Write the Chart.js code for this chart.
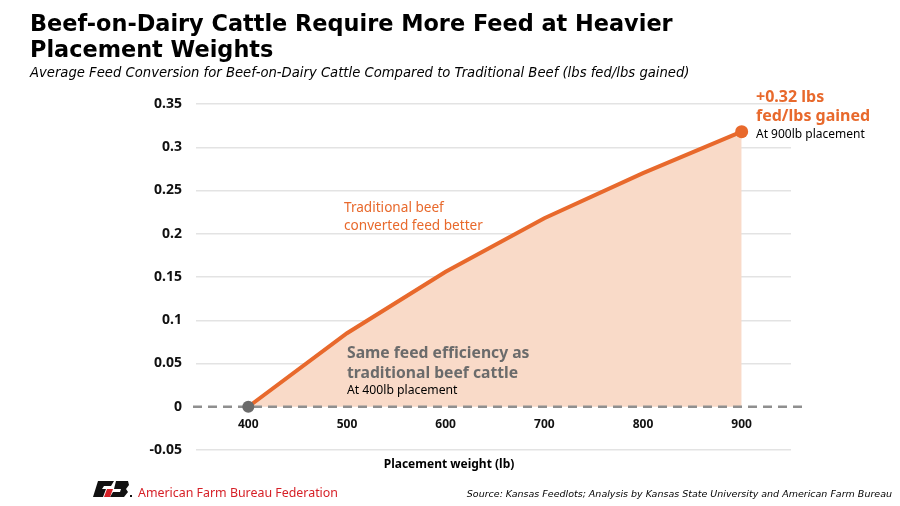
<!DOCTYPE html>
<html>
<head>
<meta charset="utf-8">
<script src="https://cdn.jsdelivr.net/npm/chart.js@4.4.1/dist/chart.umd.min.js"></script>
<style>
    html, body { margin: 0; padding: 0; background: #ffffff; }
    #wrap { width: 900px; height: 506px; position: relative; }
</style>
</head>
<body>
<div id="wrap"><canvas id="feed-chart" width="900" height="506"></canvas></div>
<script>

// placement weight (lb) and extra feed conversion vs traditional beef (lbs fed / lbs gained)
const placementWeights = [400, 500, 600, 700, 800, 900];
const feedDifference = [0, 0.085, 0.156, 0.218, 0.270, 0.318];
const xTickValues = [400, 500, 600, 700, 800, 900];
const yTickValues = [-0.05, 0, 0.05, 0.1, 0.15, 0.2, 0.25, 0.3, 0.35];

const ORANGE = "#E8692C";
const FILL = "rgba(249, 218, 200, 1)";
const GREY = "#6b6b6b";

const points = placementWeights.map((w, i) => ({ x: w, y: feedDifference[i] }));
const lastIndex = points.length - 1;

function drawText(ctx, text, x, y, font, color, align) {
    ctx.font = font;
    ctx.fillStyle = color;
    ctx.textAlign = align || "left";
    ctx.textBaseline = "alphabetic";
    ctx.fillText(text, x, y);
}

const textPlugin = {
    id: "textPlugin",
    beforeDraw(chart) {
        const ctx = chart.ctx;
        ctx.save();
        ctx.fillStyle = "#ffffff";
        ctx.fillRect(0, 0, chart.width, chart.height);
        ctx.restore();
    },
    beforeDatasetDraw(chart) {
        // dashed zero line, drawn over the fill but under the line and points
        const ctx = chart.ctx;
        const y0 = chart.scales.y.getPixelForValue(0);
        ctx.save();
        ctx.strokeStyle = "#8f8f8f";
        ctx.lineWidth = 2.5;
        ctx.setLineDash([9, 6]);
        ctx.beginPath();
        ctx.moveTo(chart.chartArea.left - 3, y0);
        ctx.lineTo(chart.chartArea.right + 17, y0);
        ctx.stroke();
        ctx.restore();
    },
    afterDraw(chart) {
        const ctx = chart.ctx;
        ctx.save();

        // headline
        drawText(ctx, "Beef-on-Dairy Cattle Require More Feed at Heavier", 30, 31, "bold 22.4px 'DejaVu Sans'", "#000000");
        drawText(ctx, "Placement Weights", 30, 57, "bold 22.4px 'DejaVu Sans'", "#000000");
        drawText(ctx, "Average Feed Conversion for Beef-on-Dairy Cattle Compared to Traditional Beef (lbs fed/lbs gained)", 30, 77, "italic 13.2px 'DejaVu Sans'", "#000000");

        // axis title
        drawText(ctx, "Placement weight (lb)", 449, 468, "bold 12px 'Noto Sans'", "#000000", "center");

        // callouts
        drawText(ctx, "+0.32 lbs", 756, 102, "bold 16px 'Noto Sans'", ORANGE);
        drawText(ctx, "fed/lbs gained", 756, 121, "bold 16px 'Noto Sans'", ORANGE);
        drawText(ctx, "At 900lb placement", 756, 138, "12px 'Noto Sans'", "#000000");

        drawText(ctx, "Traditional beef", 344, 212, "13.6px 'Noto Sans'", ORANGE);
        drawText(ctx, "converted feed better", 344, 230, "13.6px 'Noto Sans'", ORANGE);

        drawText(ctx, "Same feed efficiency as", 347, 358, "bold 15.7px 'Noto Sans'", GREY);
        drawText(ctx, "traditional beef cattle", 347, 378, "bold 15.7px 'Noto Sans'", GREY);
        drawText(ctx, "At 400lb placement", 347, 394, "12.2px 'Noto Sans'", "#000000");

        // footer
        drawText(ctx, "Source: Kansas Feedlots; Analysis by Kansas State University and American Farm Bureau", 892, 497, "italic 9.5px 'DejaVu Sans'", "#000000", "right");
        drawText(ctx, "American Farm Bureau Federation", 138, 497, "12.4px 'Noto Sans'", "#D62027");

        // logo mark
        ctx.fillStyle = "#111111";
        ctx.beginPath();
        ctx.moveTo(98, 481); ctx.lineTo(114, 481); ctx.lineTo(111, 486); ctx.lineTo(104, 486);
        ctx.lineTo(102, 489); ctx.lineTo(106, 489); ctx.lineTo(103, 497); ctx.lineTo(93, 497);
        ctx.closePath();
        ctx.fill();
        ctx.beginPath();
        ctx.moveTo(116, 481); ctx.lineTo(128, 481); ctx.lineTo(129, 485); ctx.lineTo(126, 489);
        ctx.lineTo(128, 492); ctx.lineTo(124, 497); ctx.lineTo(110, 497); ctx.lineTo(113, 492);
        ctx.lineTo(120, 492); ctx.lineTo(121, 489); ctx.lineTo(114, 489);
        ctx.closePath();
        ctx.fill();
        ctx.fillStyle = "#D62027";
        ctx.beginPath();
        ctx.moveTo(107, 489); ctx.lineTo(113, 489); ctx.lineTo(110, 497); ctx.lineTo(104, 497);
        ctx.closePath();
        ctx.fill();
        ctx.fillStyle = "#111111";
        ctx.fillRect(130, 495, 2, 2);

        ctx.restore();
    }
};

new Chart(document.getElementById("feed-chart").getContext("2d"), {
    type: "line",
    data: {
        datasets: [{
            data: points,
            borderColor: ORANGE,
            borderWidth: 4,
            backgroundColor: FILL,
            fill: "origin",
            tension: 0,
            pointRadius: points.map((p, i) => i === 0 ? 6 : (i === lastIndex ? 6.5 : 0)),
            pointBackgroundColor: points.map((p, i) => i === 0 ? GREY : ORANGE),
            pointBorderColor: points.map((p, i) => i === 0 ? GREY : ORANGE),
            pointBorderWidth: 0,
            clip: false
        }]
    },
    options: {
        responsive: false,
        animation: false,
        devicePixelRatio: 1,
        layout: {
            padding: { left: 136, right: 109, top: 104, bottom: 56 }
        },
        plugins: {
            legend: { display: false },
            tooltip: { enabled: false },
            title: { display: false }
        },
        scales: {
            x: {
                type: "linear",
                min: 347,
                max: 950,
                position: { y: 0 },
                afterBuildTicks: scale => {
                    scale.ticks = xTickValues.map(v => ({ value: v }));
                },
                grid: { display: false, drawTicks: false },
                border: { display: false },
                ticks: {
                    padding: 11,
                    color: "#111111",
                    font: { family: "'Noto Sans'", size: 12, weight: "bold" }
                }
            },
            y: {
                min: -0.05,
                max: 0.35,
                afterBuildTicks: scale => {
                    scale.ticks = yTickValues.map(v => ({ value: v }));
                },
                afterFit: scale => {
                    scale.width = 60;
                },
                grid: {
                    drawTicks: false,
                    color: c => c.tick && Math.abs(c.tick.value) < 0.001 ? "rgba(0,0,0,0)" : "#e3e3e3",
                    lineWidth: 1.5
                },
                border: { display: false },
                ticks: {
                    padding: 14,
                    color: "#111111",
                    font: { family: "'Noto Sans'", size: 14, weight: "bold" },
                    callback: v => String(parseFloat(Number(v).toFixed(2)))
                }
            }
        }
    },
    plugins: [textPlugin]
});
</script>
</body>
</html>
